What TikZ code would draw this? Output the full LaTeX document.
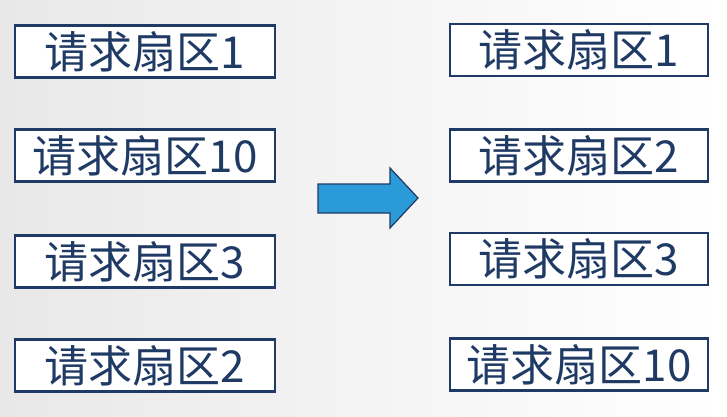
\documentclass[tikz,border=0pt]{standalone}
\usepackage{fontspec}
\newfontfamily\cjk{Noto Sans CJK SC}
\definecolor{navy}{HTML}{1F3A64}
\definecolor{arr}{HTML}{2A9AD8}
\begin{document}
\begin{tikzpicture}[x=1pt,y=-1pt,
  box/.style={draw=navy,line width=2.2pt,fill=white,minimum height=52pt,inner sep=0pt,text=navy,font=\cjk\fontsize{44}{46}\selectfont},
  lbox/.style={box,minimum width=260pt},
  rbox/.style={box,minimum width=258pt}]
\shade[left color=black!9,right color=white] (0,0) rectangle (727,416);
\useasboundingbox (0,0) rectangle (727,416);
\node[lbox] (l1) at (145,51.5) {请求扇区1};
\node[lbox] (l2) at (145,155.5) {请求扇区10};
\node[lbox] (l3) at (145,261.5) {请求扇区3};
\node[lbox] (l4) at (145,365.5) {请求扇区2};
\node[rbox] (r1) at (579,50) {请求扇区1};
\node[rbox] (r2) at (579,155.5) {请求扇区2};
\node[rbox] (r3) at (579,259) {请求扇区3};
\node[rbox] (r4) at (579,364.5) {请求扇区10};
\draw[navy,line width=1.2pt,fill=arr] (318,184) -- (390,184) -- (390,168) -- (418,198) -- (390,228) -- (390,213) -- (318,213) -- cycle;
\end{tikzpicture}
\end{document}
